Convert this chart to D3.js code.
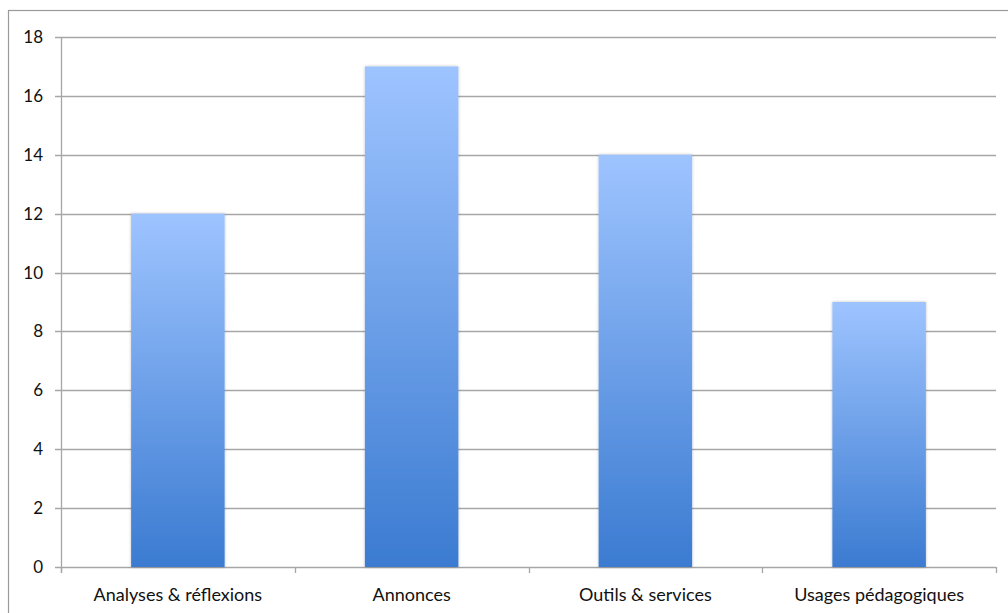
<!DOCTYPE html>
<html>
<head>
<meta charset="utf-8">
<script src="https://cdn.jsdelivr.net/npm/d3@7"></script>
<style>
  body { margin: 0; background: #fff; }
  text { font-family: Lato, "Open Sans", sans-serif; fill: #111; }
</style>
</head>
<body>
<div id="chart"></div>
<script>
var categories = ["Analyses & réflexions", "Annonces", "Outils & services", "Usages pédagogiques"];
var values = [12, 17, 14, 9];
var yTicks = [0, 2, 4, 6, 8, 10, 12, 14, 16, 18];

var W = 1008, H = 613;
var plotLeft = 61, plotRight = 996, plotTop = 37, plotBottom = 567;

var svg = d3.select("#chart").append("svg")
  .attr("width", W)
  .attr("height", H);

// outer frame (right and bottom edges fall outside the picture)
svg.append("rect")
  .attr("x", 8.5).attr("y", 10.5)
  .attr("width", 1010).attr("height", 620)
  .attr("fill", "none")
  .attr("stroke", "#9a9a9a")
  .attr("stroke-width", 1.2);

var defs = svg.append("defs");
var grad = defs.append("linearGradient")
  .attr("id", "barGrad")
  .attr("x1", 0).attr("y1", 0).attr("x2", 0).attr("y2", 1);
grad.append("stop").attr("offset", "0%").attr("stop-color", "#9ec4ff");
grad.append("stop").attr("offset", "100%").attr("stop-color", "#3b7bd1");

var shadow = defs.append("filter").attr("id", "shadow")
  .attr("x", "-10%").attr("y", "-10%").attr("width", "120%").attr("height", "120%");
shadow.append("feGaussianBlur").attr("in", "SourceAlpha").attr("stdDeviation", 1.5);
shadow.append("feOffset").attr("dx", 0).attr("dy", 0).attr("result", "blur");
shadow.append("feComponentTransfer").append("feFuncA").attr("type", "linear").attr("slope", 0.25);
var merge = shadow.append("feMerge");
merge.append("feMergeNode");
merge.append("feMergeNode").attr("in", "SourceGraphic");

var x = d3.scaleBand()
  .domain(categories)
  .range([plotLeft, plotRight])
  .paddingInner(0.6)
  .paddingOuter(0.3);

var y = d3.scaleLinear()
  .domain([0, 18])
  .range([plotBottom, plotTop]);

// horizontal gridlines
svg.append("g")
  .selectAll("line")
  .data(yTicks)
  .enter().append("line")
  .attr("x1", plotLeft - 6)
  .attr("x2", plotRight)
  .attr("y1", function(d){ return Math.round(y(d)) + 0.5; })
  .attr("y2", function(d){ return Math.round(y(d)) + 0.5; })
  .attr("stroke", "#a6a6a6")
  .attr("stroke-width", 1.3);

// y axis line
svg.append("line")
  .attr("x1", plotLeft + 0.5).attr("x2", plotLeft + 0.5)
  .attr("y1", plotTop).attr("y2", plotBottom + 6)
  .attr("stroke", "#a6a6a6")
  .attr("stroke-width", 1.3);

// y labels
svg.append("g")
  .selectAll("text")
  .data(yTicks)
  .enter().append("text")
  .attr("x", 43)
  .attr("y", function(d){ return y(d) + 6; })
  .attr("text-anchor", "end")
  .style("font-size", "17px")
  .text(function(d){ return d; });

// x category boundary ticks
var step = (plotRight - plotLeft) / categories.length;
svg.append("g")
  .selectAll("line")
  .data(d3.range(categories.length + 1))
  .enter().append("line")
  .attr("x1", function(i){ return Math.round(plotLeft + i * step) + 0.5; })
  .attr("x2", function(i){ return Math.round(plotLeft + i * step) + 0.5; })
  .attr("y1", plotBottom)
  .attr("y2", plotBottom + 6)
  .attr("stroke", "#a6a6a6")
  .attr("stroke-width", 1.3);

// bars
svg.append("g")
  .selectAll("rect")
  .data(values)
  .enter().append("rect")
  .attr("x", function(d, i){ return x(categories[i]); })
  .attr("y", function(d){ return y(d); })
  .attr("width", x.bandwidth())
  .attr("height", function(d){ return plotBottom - y(d); })
  .attr("fill", "url(#barGrad)")
  .attr("filter", "url(#shadow)");

// x labels
svg.append("g")
  .selectAll("text")
  .data(categories)
  .enter().append("text")
  .attr("x", function(d){ return x(d) + x.bandwidth() / 2; })
  .attr("y", 601)
  .attr("text-anchor", "middle")
  .style("font-size", "18px")
  .text(function(d){ return d; });
</script>
</body>
</html>
